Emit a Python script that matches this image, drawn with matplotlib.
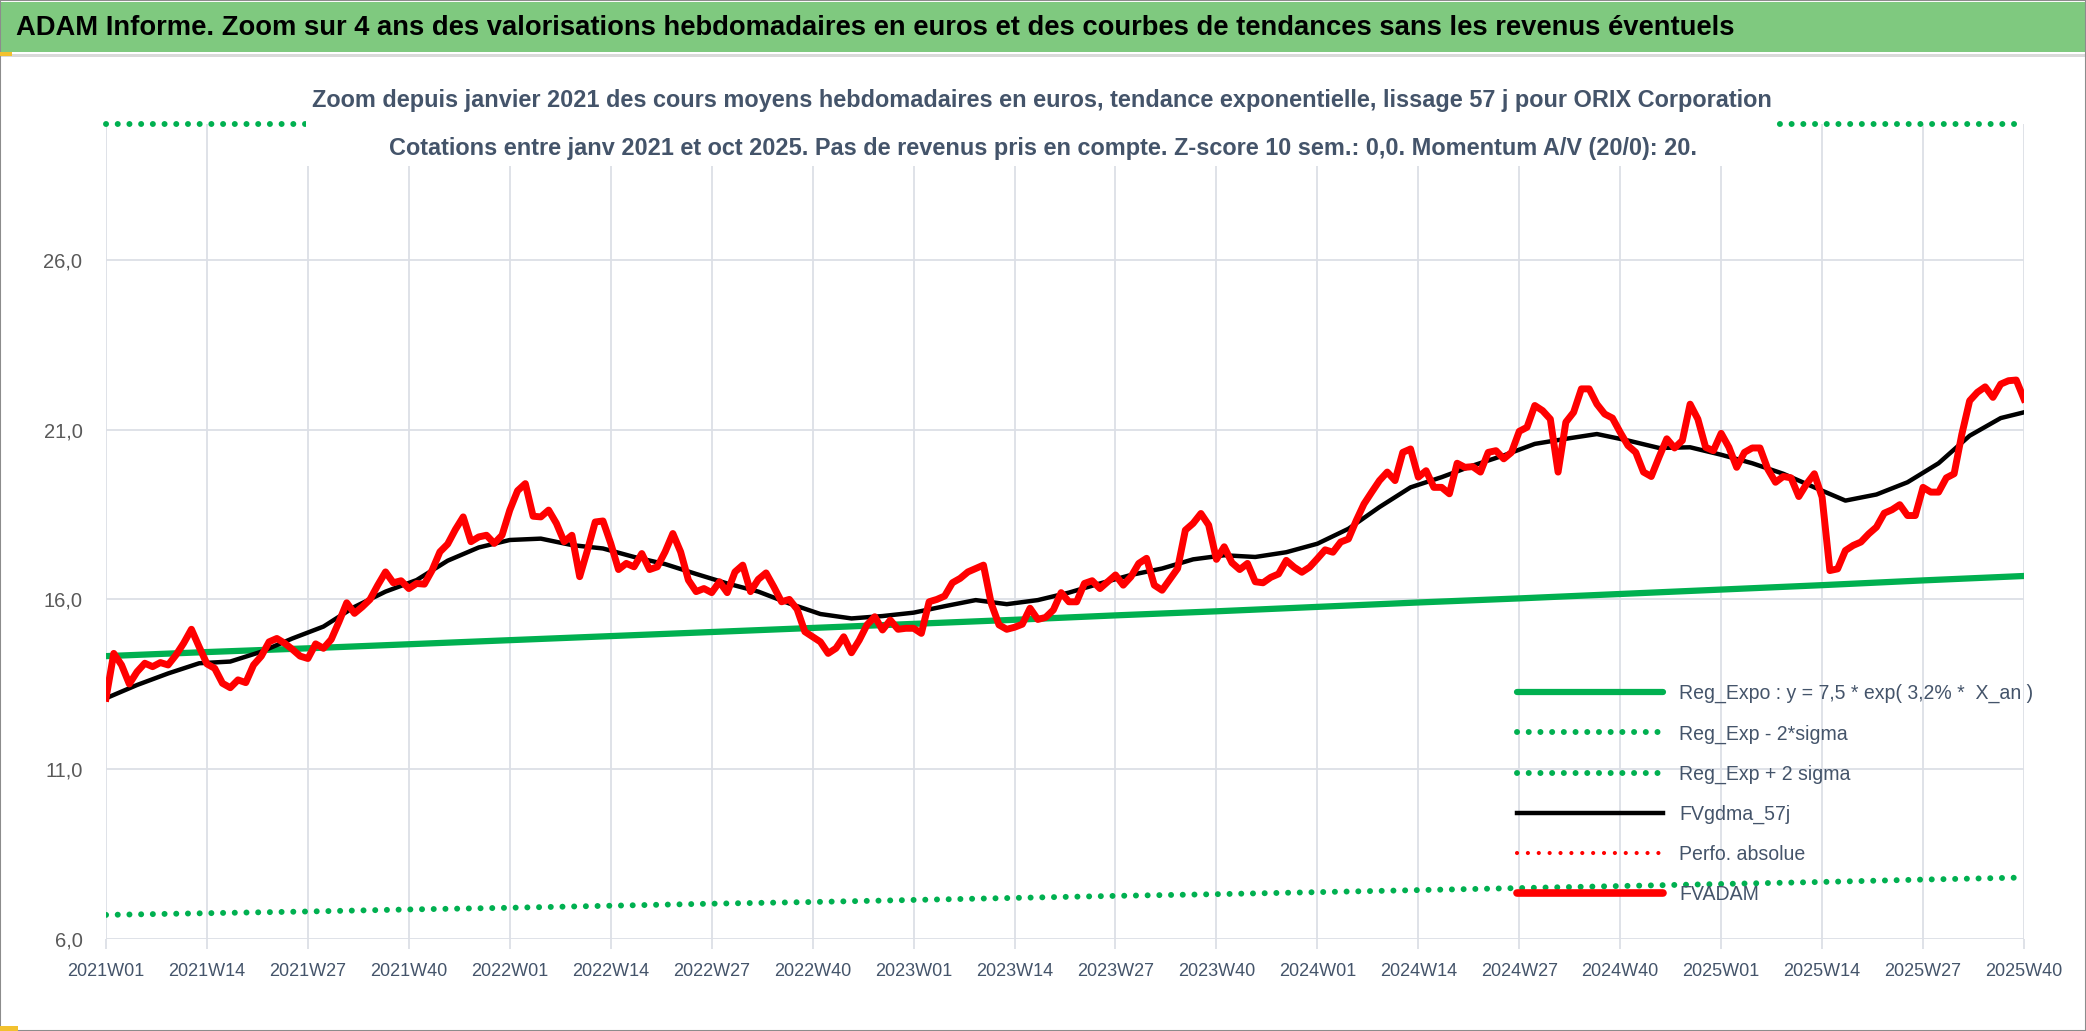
import numpy as np
import matplotlib
matplotlib.use('Agg')
import matplotlib.pyplot as plt
from matplotlib.patches import Rectangle
from matplotlib.lines import Line2D

# weekly FVADAM values, 2021W01 .. 2025W40 (one row = 13 weeks)
fvadam = [
    13.09, 14.41, 14.07, 13.51, 13.87, 14.12, 14.02, 14.14, 14.07, 14.36, 14.71, 15.12, 14.6,
    14.1, 13.97, 13.53, 13.4, 13.63, 13.55, 14.07, 14.33, 14.75, 14.85, 14.71, 14.53, 14.33,
    14.26, 14.69, 14.56, 14.82, 15.34, 15.9, 15.59, 15.78, 16.0, 16.42, 16.81, 16.49, 16.55,
    16.32, 16.47, 16.45, 16.86, 17.4, 17.63, 18.06, 18.43, 17.7, 17.84, 17.89, 17.65, 17.89,
    18.63, 19.2, 19.41, 18.45, 18.43, 18.63, 18.24, 17.7, 17.89, 16.67, 17.45, 18.28, 18.31,
    17.65, 16.88, 17.06, 16.96, 17.35, 16.88, 16.96, 17.4, 17.94, 17.4, 16.57, 16.23, 16.32,
    16.2, 16.52, 16.2, 16.81, 17.01, 16.23, 16.59, 16.78, 16.37, 15.93, 16.0, 15.71, 15.05,
    14.9, 14.75, 14.41, 14.56, 14.9, 14.43, 14.8, 15.25, 15.49, 15.1, 15.39, 15.12, 15.15,
    15.15, 15.0, 15.93, 16.0, 16.1, 16.49, 16.62, 16.81, 16.91, 17.01, 15.88, 15.25, 15.12,
    15.18, 15.27, 15.74, 15.41, 15.47, 15.69, 16.2, 15.93, 15.93, 16.47, 16.55, 16.32, 16.52,
    16.72, 16.42, 16.67, 17.06, 17.21, 16.42, 16.27, 16.59, 16.91, 18.04, 18.24, 18.53, 18.19,
    17.18, 17.55, 17.08, 16.88, 17.06, 16.52, 16.49, 16.65, 16.75, 17.15, 16.95, 16.8, 16.95,
    17.2, 17.46, 17.39, 17.69, 17.78, 18.32, 18.81, 19.16, 19.5, 19.75, 19.5, 20.33, 20.43,
    19.6, 19.79, 19.3, 19.3, 19.11, 20.01, 19.89, 19.91, 19.75, 20.33, 20.38, 20.14, 20.33,
    20.95, 21.07, 21.71, 21.56, 21.31, 19.75, 21.22, 21.51, 22.2, 22.2, 21.75, 21.46, 21.34,
    20.92, 20.53, 20.33, 19.75, 19.62, 20.19, 20.73, 20.46, 20.68, 21.75, 21.31, 20.48, 20.38,
    20.89, 20.48, 19.89, 20.33, 20.46, 20.46, 19.84, 19.45, 19.62, 19.58, 19.03, 19.4, 19.7,
    19.01, 16.85, 16.9, 17.44, 17.59, 17.69, 17.93, 18.13, 18.54, 18.64, 18.79, 18.47, 18.47,
    19.3, 19.16, 19.16, 19.58, 19.7, 20.87, 21.85, 22.1, 22.26, 21.95, 22.34, 22.44, 22.46,
    21.9,
]

# smoothed curve FVgdma_57j, read every 4 weeks
ma_weeks = list(range(0, 248, 4)) + [247]
fvgdma = [
    13.09, 13.48, 13.82, 14.12, 14.17, 14.46, 14.85, 15.2, 15.78, 16.23, 16.57, 17.14, 17.53,
    17.75, 17.79, 17.6, 17.5, 17.25, 17.04, 16.75, 16.47, 16.23, 15.88, 15.57, 15.44, 15.51,
    15.61, 15.8, 15.98, 15.86, 15.98, 16.2, 16.47, 16.72, 16.91, 17.18, 17.3, 17.25, 17.39,
    17.64, 18.08, 18.72, 19.3, 19.6, 19.94, 20.24, 20.58, 20.73, 20.87, 20.68, 20.46, 20.48,
    20.26, 20.01, 19.7, 19.3, 18.91, 19.09, 19.45, 20.01, 20.82, 21.34, 21.51,
]

# regression lines, read at the tick weeks
trend_weeks = list(range(0, 248, 13))
reg_expo = [14.33, 14.45, 14.56, 14.68, 14.80, 14.92, 15.04, 15.16, 15.28, 15.40,
            15.53, 15.65, 15.78, 15.91, 16.03, 16.16, 16.29, 16.42, 16.56, 16.69]
reg_low = [6.71, 6.76, 6.81, 6.87, 6.92, 6.98, 7.04, 7.09, 7.15, 7.21,
           7.27, 7.32, 7.38, 7.44, 7.50, 7.56, 7.62, 7.68, 7.75, 7.81]
reg_high = [30.65, 30.90, 31.14, 31.39, 31.65, 31.91, 32.16, 32.42, 32.68, 32.93,
            33.21, 33.47, 33.75, 34.02, 34.28, 34.56, 34.84, 35.12, 35.42, 35.69]

x_labels = ['2021W01', '2021W14', '2021W27', '2021W40', '2022W01', '2022W14', '2022W27',
            '2022W40', '2023W01', '2023W14', '2023W27', '2023W40', '2024W01', '2024W14',
            '2024W27', '2024W40', '2025W01', '2025W14', '2025W27', '2025W40']
y_ticks = [6, 11, 16, 21, 26]
y_labels = ['6,0', '11,0', '16,0', '21,0', '26,0']
Y_MIN, Y_MAX = 6, 30

legend_labels = ['Reg_Expo : y = 7,5 * exp( 3,2% *  X_an )', 'Reg_Exp - 2*sigma',
                 'Reg_Exp + 2 sigma', 'FVgdma_57j', 'Perfo. absolue', 'FVADAM']

title = ("ADAM Informe. Zoom sur 4 ans des valorisations hebdomadaires en euros "
         "et des courbes de tendances sans les revenus éventuels")
sub1 = ("Zoom depuis janvier 2021 des cours moyens hebdomadaires en euros, tendance "
        "exponentielle, lissage 57 j pour ORIX Corporation")
sub2 = ("Cotations entre janv 2021 et oct 2025. Pas de revenus pris en compte. "
        "Z-score 10 sem.: 0,0. Momentum A/V (20/0): 20.")

plt.rcParams['font.family'] = ['Liberation Sans', 'DejaVu Sans']

W, H = 2086, 1031
GREEN = '#00B050'
GRID = '#DCDFE6'
TXT = '#44546A'
dots = (0, (0.01, 1.95))
DOT_LW = 4.3

fig = plt.figure(figsize=(W / 100, H / 100), dpi=100)
ax = fig.add_axes([106 / W, 1 - 939 / H, (2024 - 106) / W, (939 - 124) / H])

weeks = np.arange(len(fvadam))
ax.plot(trend_weeks, reg_expo, color=GREEN, lw=4.5, solid_capstyle='round', zorder=3)
ax.plot(trend_weeks, reg_low, color=GREEN, lw=DOT_LW, ls=dots, dash_capstyle='round', zorder=3)
# values above the axis are shown pinned to the top edge, as in the source chart
ax.plot(trend_weeks, np.minimum(reg_high, Y_MAX), color=GREEN, lw=DOT_LW, ls=dots,
        dash_capstyle='round', zorder=3, clip_on=False)
ax.plot(ma_weeks, fvgdma, color='black', lw=3.2, zorder=4, solid_joinstyle='round')
ax.plot(weeks, fvadam, color='#FF0000', lw=5.0, zorder=5, solid_joinstyle='round')

ax.set_xlim(0, 247)
ax.set_ylim(Y_MIN, Y_MAX)
ax.set_xticks(trend_weeks)
ax.set_xticklabels(x_labels)
ax.set_yticks(y_ticks)
ax.set_yticklabels(y_labels)
ax.grid(True, color=GRID, lw=1.3)
ax.set_axisbelow(True)
for s in ax.spines.values():
    s.set_visible(False)
ax.tick_params(axis='x', length=7, width=1.3, color=GRID, pad=10, labelsize=13, labelcolor=TXT)
ax.tick_params(axis='y', length=0, pad=17, labelsize=14.5, labelcolor='#595959')

# header band
fig.add_artist(Rectangle((0, 1 - 52 / H), 1, 50 / H, transform=fig.transFigure,
                         fc='#7FC97F', ec='none', zorder=1))
fig.add_artist(Rectangle((0, 1 - 57 / H), 1, 3 / H, transform=fig.transFigure,
                         fc='#D9D9D9', ec='none', zorder=1))
t_title = fig.text(16 / W, 1 - 28 / H, title, ha='left', va='center', fontsize=20,
                   weight='bold', color='black', zorder=7)

# white box behind the subtitle
fig.add_artist(Rectangle((306 / W, 1 - 166 / H), (1776 - 306) / W, 86 / H,
                         transform=fig.transFigure, fc='white', ec='none', zorder=5))
t_sub1 = fig.text(1042 / W, 1 - 101 / H, sub1, ha='center', va='center', fontsize=16,
                  weight='bold', color=TXT, zorder=7)
t_sub2 = fig.text(1043 / W, 1 - 148 / H, sub2, ha='center', va='center', fontsize=16,
                  weight='bold', color=TXT, zorder=7)

fig.canvas.draw()
r = fig.canvas.get_renderer()


def fit(t, target):
    w = t.get_window_extent(r).width
    t.set_fontsize(t.get_fontsize() * target / w)


fit(t_title, 1716)
fit(t_sub1, 1461)
t_sub2.set_fontsize(t_sub1.get_fontsize())

tmp = fig.text(0, 0, legend_labels[0], fontsize=13)
leg_fs = 13 * 354 / tmp.get_window_extent(r).width
tmp.remove()
fs_px = leg_fs * 100 / 72

handles = [
    Line2D([], [], color=GREEN, lw=4.5, solid_capstyle='round'),
    Line2D([], [], color=GREEN, lw=DOT_LW, ls=dots, dash_capstyle='round'),
    Line2D([], [], color=GREEN, lw=DOT_LW, ls=dots, dash_capstyle='round'),
    Line2D([], [], color='black', lw=3.2),
    Line2D([], [], color='#FF0000', lw=3.0, ls=(0, (0.01, 2.6)), dash_capstyle='round'),
    Line2D([], [], color='#FF0000', lw=5.5, solid_capstyle='round'),
]
leg = fig.legend(handles, legend_labels, loc='upper left',
                 bbox_to_anchor=(1517 / W, 1 - 684 / H), bbox_transform=fig.transFigure,
                 frameon=False, borderpad=0, borderaxespad=0, fontsize=leg_fs,
                 handlelength=146 / fs_px, handletextpad=16 / fs_px,
                 labelspacing=44.5 / fs_px - 1.2, labelcolor=TXT)
leg.set_zorder(8)

# frame and small selection marks
fig.add_artist(Rectangle((0, 0), 1, 1, transform=fig.transFigure, fill=False,
                         ec='#8C8C8C', lw=1.5, zorder=10))
fig.add_artist(Rectangle((0, 1 - 56 / H), 12 / W, 4 / H, transform=fig.transFigure,
                         fc='#F2C12E', ec='none', zorder=11))
fig.add_artist(Rectangle((0, 0), 18 / W, 5 / H, transform=fig.transFigure,
                         fc='#F2C12E', ec='none', zorder=11))

fig.savefig('out.png', dpi=100)
